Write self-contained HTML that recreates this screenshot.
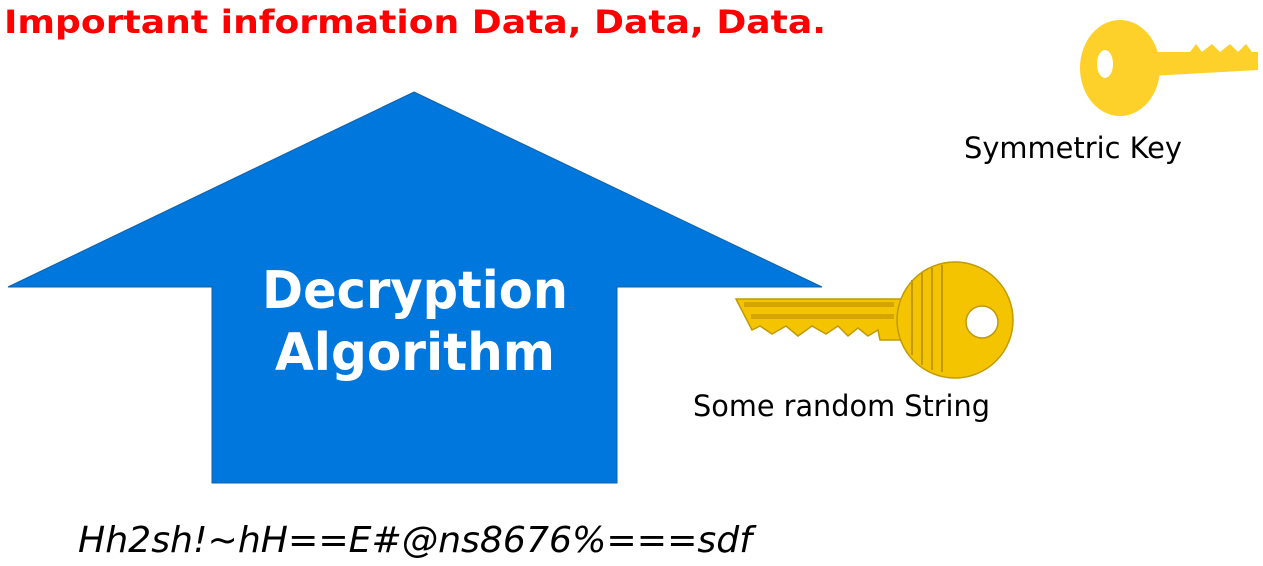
<!DOCTYPE html>
<html><head><style>
body{margin:0;background:#fff;width:1263px;height:562px;overflow:hidden;font-family:"DejaVu Sans",sans-serif}
</style></head><body>
<svg width="1263" height="562" viewBox="0 0 1263 562" xmlns="http://www.w3.org/2000/svg">
<text x="4" y="33" font-family="DejaVu Sans, sans-serif" font-weight="bold" font-size="32" fill="#ff0000" textLength="822" lengthAdjust="spacingAndGlyphs">Important information Data, Data, Data.</text>
<polygon points="414,92 822,287 617,287 617,483 212,483 212,287 8,287" fill="#0077dd" stroke="#1060a8" stroke-width="1"/>
<text x="262" y="308" font-family="DejaVu Sans, sans-serif" font-weight="bold" font-size="52" fill="#fff" textLength="306" lengthAdjust="spacingAndGlyphs">Decryption</text>
<text x="275" y="370" font-family="DejaVu Sans, sans-serif" font-weight="bold" font-size="52" fill="#fff" textLength="280" lengthAdjust="spacingAndGlyphs">Algorithm</text>
<!-- key 1 -->
<path d="M736,299 L905,299 L905,340 L880,340 L878,330 L868,336 L858,328 L848,336 L838,326 L826,334 L812,326 L798,336 L786,326 L772,334 L760,326 L752,330 Z" fill="#f5c400" stroke="#c09a00" stroke-width="1.5"/>
<circle cx="955" cy="320" r="58" fill="#f5c400" stroke="#c09a00" stroke-width="1.5"/>
<circle cx="982" cy="322" r="16" fill="#fff" stroke="#c09a00" stroke-width="1.5"/>
<rect x="744" y="302" width="150" height="5" fill="#d4a400"/>
<rect x="751" y="314" width="143" height="5" fill="#d4a400"/>
<g stroke="#c09a00" stroke-width="2"><line x1="912" y1="280" x2="912" y2="355"/><line x1="922" y1="272" x2="922" y2="365"/><line x1="932" y1="268" x2="932" y2="370"/><line x1="942" y1="265" x2="942" y2="372"/></g>
<text x="693" y="416" font-family="DejaVu Sans, sans-serif" font-size="29" fill="#000" textLength="297" lengthAdjust="spacingAndGlyphs">Some random String</text>
<!-- key 2 -->
<path d="M1150,52 L1190,52 L1196,44 L1202,52 L1212,44 L1220,52 L1230,44 L1238,52 L1246,44 L1252,52 L1258,52 L1258,70 L1150,76 Z" fill="#fdd02a"/>
<ellipse cx="1120" cy="68" rx="40" ry="48" fill="#fdd02a"/>
<ellipse cx="1105" cy="64" rx="8" ry="14" fill="#fff"/>
<text x="964" y="158" font-family="DejaVu Sans, sans-serif" font-size="29" fill="#000" textLength="218" lengthAdjust="spacingAndGlyphs">Symmetric Key</text>
<text x="78" y="552" font-family="DejaVu Sans, sans-serif" font-style="italic" font-size="36" fill="#000" textLength="674" lengthAdjust="spacingAndGlyphs">Hh2sh!~hH==E#@ns8676%===sdf</text>
</svg>
</body></html>
